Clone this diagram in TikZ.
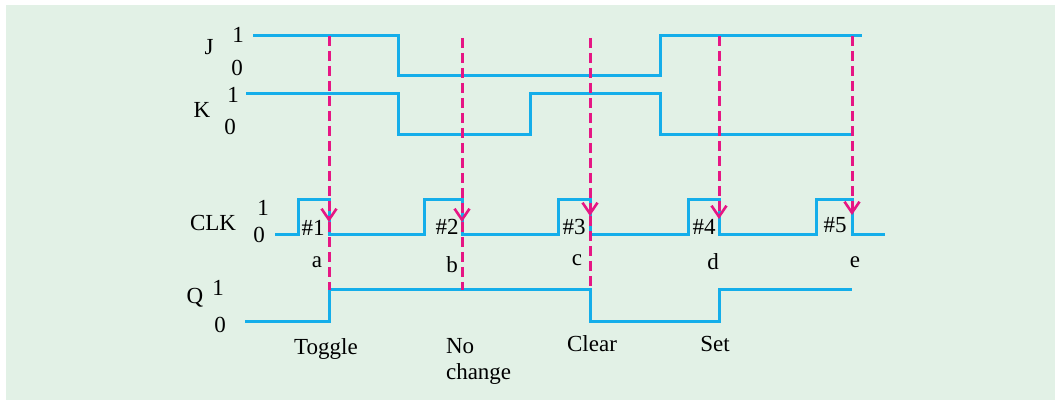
\documentclass[tikz,border=0pt]{standalone}
\usepackage{fontspec}
\setmainfont{Liberation Serif}
\usetikzlibrary{arrows.meta,positioning}
\definecolor{bggreen}{RGB}{226,241,230}
\definecolor{sigblue}{RGB}{20,174,234}
\definecolor{edgepink}{RGB}{230,22,132}

\begin{document}
\begin{tikzpicture}[x=0.5pt, y=-0.5pt, font=\fontsize{11.5}{13}\selectfont,
  sig/.style={sigblue, line width=1.5pt},
  trig/.style={edgepink, line width=1.5pt, dash pattern=on 5pt off 2.5pt},
  barb/.style={-{Straight Barb[length=5.5pt, width=7.5pt, line width=1.3pt]}}]
  \useasboundingbox (0,0) rectangle (1055,400);
  \fill[bggreen] (6,5) rectangle (1055,400);

  % signal names and levels
  \node (jname) at (209,47) {J};
  \node (jone)  at (238,35) {1};
  \node (jzero) at (237,68) {0};
  \node (kname) at (202,110) {K};
  \node (kone)  at (233,95) {1};
  \node (kzero) at (230,127) {0};
  \node (clkname) at (213,223) {CLK};
  \node (clkone)  at (263,208) {1};
  \node (clkzero) at (259,235) {0};
  \node (qname) at (195,298) {Q};
  \node (qone)  at (218,288) {1};
  \node (qzero) at (220,325) {0};

  % waveforms
  \draw[sig] (253,36) -- (398,36) -- (398,76) -- (660,76) -- (660,36) -- (862,36);
  \draw[sig] (246,94) -- (398,94) -- (398,135) -- (530,135) -- (530,94)
    -- (660,94) -- (660,135) -- (852,135);
  \draw[sig] (275,235)
    foreach \r/\f in {298/329, 424/462, 558/590, 688/719, 816/852}
      { -- (\r,235) -- (\r,200) -- (\f,200) -- (\f,235) }
    -- (885,235);
  \draw[sig] (245,322) -- (329,322) -- (329,290) -- (590,290) -- (590,322)
    -- (719,322) -- (719,290) -- (852,290);

  % clock pulse numbers and edge letters
  \foreach \n/\x/\y in {1/313/228, 2/447/227, 3/574/227, 4/704/227, 5/835/225}
    \node (pulse\n) at (\x,\y) {\#\n};
  \foreach \n/\x/\y in {a/317/262, b/452/265, c/577/260, d/713/262, e/855/262}
    \node (edge\n) at (\x,\y) {\n};

  % triggering edges
  \foreach \n/\x/\t/\h in {a/329/36/222, b/462/38/222, c/590/38/216, d/719/36/219, e/852/36/215} {
    \coordinate (top\n) at (\x,\t);
    \coordinate (tip\n) at (\x,\h);
    \draw[trig, barb] (top\n) -- (tip\n);
  }
  \foreach \n/\x in {a/329, b/462, c/590} {
    \coordinate (bot\n) at (\x,290);
    \draw[trig] (tip\n) -- (bot\n);
  }

  % resulting actions
  \node (toggle) at (326,349) {Toggle};
  \node[align=left, anchor=north west] (nochange) at (439,331) {No\\change};
  \node (clear) at (592,344) {Clear};
  \node (set) at (715,344) {Set};
\end{tikzpicture}
\end{document}
